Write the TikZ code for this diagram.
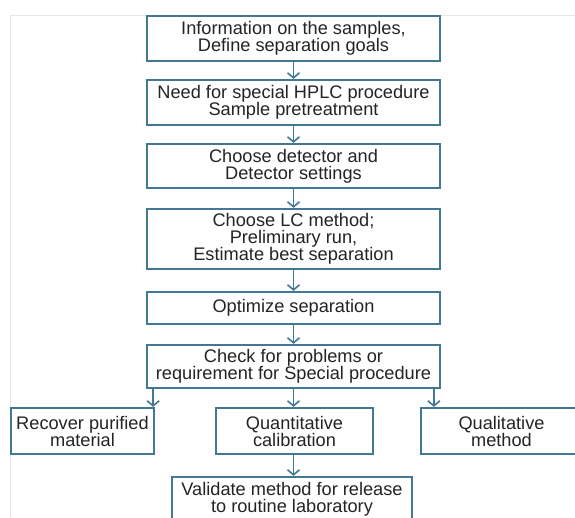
\documentclass[tikz,border=0pt]{standalone}
\usepackage{fontspec}
\setmainfont{Liberation Sans}
\usetikzlibrary{arrows.meta}
\definecolor{boxblue}{RGB}{66,120,148}
\definecolor{txt}{RGB}{36,36,36}
\definecolor{framegray}{RGB}{226,231,234}
\tikzset{
  box/.style={draw=boxblue, line width=2.3pt, fill=white, align=center, inner sep=0pt,
    text=txt, font=\fontsize{18.2}{17}\selectfont},
  arr/.style={draw=boxblue, line width=1.6pt, -{Straight Barb[length=5pt,width=12pt]}},
  framestyle/.style={draw=framegray, line width=1pt}
}
\begin{document}
\begin{tikzpicture}[x=1pt,y=-1pt]
\useasboundingbox (0,0) rectangle (575,518);
\fill[white] (0,0) rectangle (575,518);
\clip (0,0) rectangle (575,518);
\draw[framestyle] (10,518) -- (10,15.5) -- (575,15.5);

\node[box, minimum width=293, minimum height=45] (n1) at (293.5,38.5) {Information on the samples,\\Define separation goals};
\node[box, minimum width=293, minimum height=45] (n2) at (293.5,102.5) {Need for special HPLC procedure\\Sample pretreatment};
\node[box, minimum width=293, minimum height=44] (n3) at (293.5,166) {Choose detector and\\Detector settings};
\node[box, minimum width=293, minimum height=60] (n4) at (293.5,239) {Choose LC method;\\Preliminary run,\\Estimate best separation};
\node[box, minimum width=293, minimum height=32] (n5) at (293.5,308) {Optimize separation};
\node[box, minimum width=293, minimum height=43] (n6) at (293.5,366.5) {Check for problems or\\requirement for Special procedure};

\node[box, minimum width=143, minimum height=46] (l) at (82.5,431) {Recover purified\\material};
\node[box, minimum width=157, minimum height=46] (m) at (294.5,431) {Quantitative\\calibration};
\node[box, minimum width=161, minimum height=46] (r) at (501.5,431) {Qualitative\\method};
\node[box, minimum width=240, minimum height=44] (f) at (292,499) {Validate method for release\\to routine laboratory};

\draw[arr] (n1.south) -- (n2.north);
\draw[arr] (n2.south) -- (n3.north);
\draw[arr] (n3.south) -- (n4.north);
\draw[arr] (n4.south) -- (n5.north);
\draw[arr] (n5.south) -- (n6.north);

\coordinate (la) at ([xshift=-2pt]l.north east);
\coordinate (ra) at ([xshift=14pt]r.north west);
\coordinate (ma) at (n6.south);
\draw[arr] (la |- n6.south) -- (la);
\draw[arr] (ma) -- (ma |- m.north);
\draw[arr] (ra |- n6.south) -- (ra);
\draw[arr] (ma |- m.south) -- (ma |- f.north);
\end{tikzpicture}
\end{document}
